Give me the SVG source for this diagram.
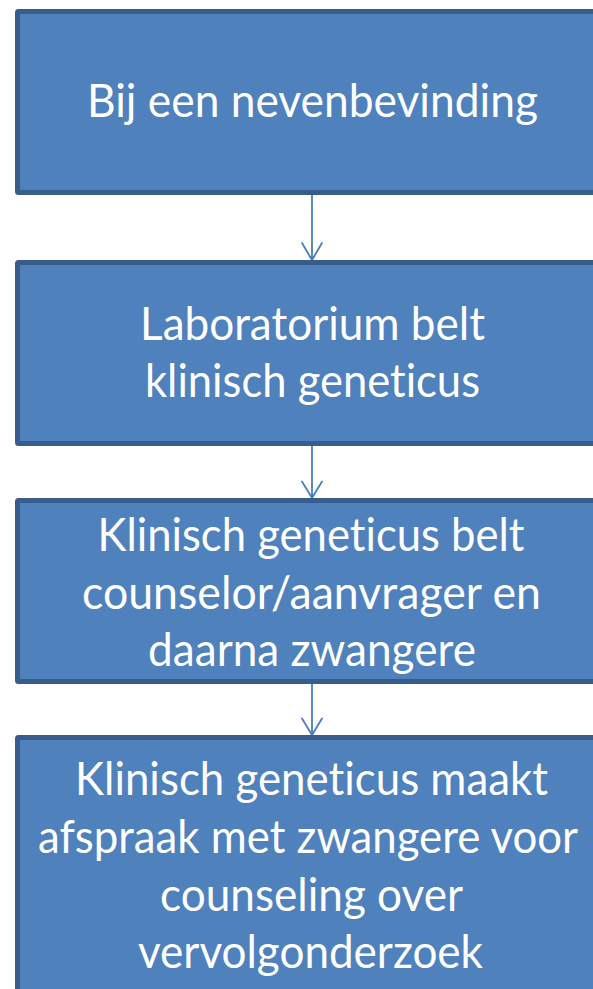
<svg xmlns="http://www.w3.org/2000/svg" width="593" height="989" viewBox="0 0 593 989">
<style>
.box{fill:#4F81BD;stroke:#385D8A;stroke-width:5;stroke-linejoin:round}
.t{fill:#FFFFFF;font-family:Lato,"Open Sans","Liberation Sans",sans-serif;font-size:47px;text-anchor:middle;font-variant-ligatures:none;font-feature-settings:"liga" 0}
.c{fill:none;stroke:#4A7EBB;stroke-width:1.8;stroke-linecap:round;stroke-linejoin:round}
</style>
<rect width="593" height="989" fill="#FFFFFF"/>
<g id="connectors">
<path class="c" d="M312 195 V260 M302 243 L312 260 L322 243"/>
<path class="c" d="M312 446 V498 M302 481.5 L312 498 L322 481.5"/>
<path class="c" d="M312 684 V735 M302 718.5 L312 735 L322 718.5"/>
</g>
<g id="node1">
<rect class="box" x="17.5" y="11.5" width="588" height="181" rx="1"/>
<text class="t" x="312.5" y="117" textLength="451" lengthAdjust="spacingAndGlyphs">Bij een nevenbevinding</text>
</g>
<g id="node2">
<rect class="box" x="17.5" y="262.5" width="588" height="181" rx="1"/>
<text class="t" x="312.5" y="340" textLength="345" lengthAdjust="spacingAndGlyphs">Laboratorium belt</text>
<text class="t" x="312.5" y="397" textLength="335" lengthAdjust="spacingAndGlyphs">klinisch geneticus</text>
</g>
<g id="node3">
<rect class="box" x="17.5" y="500.5" width="588" height="181" rx="1"/>
<text class="t" x="311" y="551" textLength="427" lengthAdjust="spacingAndGlyphs">Klinisch geneticus belt</text>
<text class="t" x="311.5" y="609" textLength="459" lengthAdjust="spacingAndGlyphs">counselor/aanvrager en</text>
<text class="t" x="312" y="666" textLength="328" lengthAdjust="spacingAndGlyphs">daarna zwangere</text>
</g>
<g id="node4">
<rect class="box" x="17.5" y="737.5" width="588" height="300" rx="1"/>
<text class="t" x="311.5" y="795" textLength="473" lengthAdjust="spacingAndGlyphs">Klinisch geneticus maakt</text>
<text class="t" x="308" y="852.5" textLength="540" lengthAdjust="spacingAndGlyphs">afspraak met zwangere voor</text>
<text class="t" x="311.5" y="911" textLength="303" lengthAdjust="spacingAndGlyphs">counseling over</text>
<text class="t" x="310.5" y="968" textLength="345" lengthAdjust="spacingAndGlyphs">vervolgonderzoek</text>
</g>
</svg>
